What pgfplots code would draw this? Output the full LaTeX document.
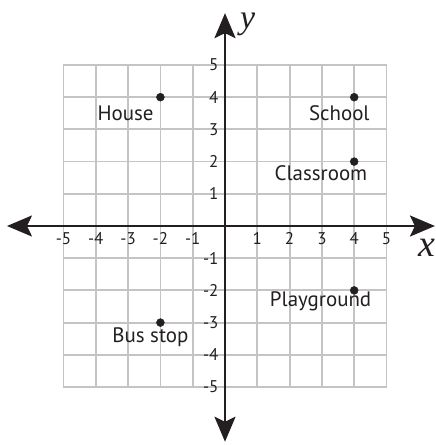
\documentclass[border=0pt]{standalone}
\usepackage{fontspec}
\setmainfont{PT Sans}
\newfontfamily\varfont{Liberation Serif}
\usepackage{pgfplots}
\pgfplotsset{compat=1.18}
\usetikzlibrary{arrows.meta}
\definecolor{gridgray}{RGB}{196,196,198}
\definecolor{ink}{RGB}{35,31,32}
\begin{document}
\begin{tikzpicture}
\begin{axis}[
  scale only axis, width=323bp, height=322bp,
  xmin=-5, xmax=5, ymin=-5, ymax=5,
  xtick={-5,...,5}, ytick={-5,...,5},
  grid=major,
  major grid style={gridgray, line width=1.8bp},
  axis line style={gridgray, line width=1.8bp},
  major tick length=0pt,
  xticklabels={,,}, yticklabels={,,},
  clip=false,
]
\coordinate (O) at (axis cs:0,0);
\draw[ink, line width=2.3bp, {Stealth[length=25bp,width=21bp,inset=5bp]}-{Stealth[length=25bp,width=21bp,inset=5bp]}] (axis cs:-6.75,0) -- (axis cs:6.5,0);
\draw[ink, line width=2.3bp, {Stealth[length=25bp,width=21bp,inset=5bp]}-{Stealth[length=25bp,width=21bp,inset=5bp]}] (axis cs:0,-6.7) -- (axis cs:0,6.61);
\addplot[only marks, mark=*, mark size=4bp, ink] coordinates {(-2,4) (4,4) (4,2) (4,-2) (-2,-3)};
% tick labels
\foreach \v in {-5,-4,-3,-2,-1,1,2,3,4,5}{
  \edef\tmp{\noexpand\node[ink, font=\noexpand\fontsize{17}{17}\noexpand\selectfont, anchor=center, inner sep=0pt] at (axis cs:\v,-0.40) {\v};
  \noexpand\node[ink, font=\noexpand\fontsize{17}{17}\noexpand\selectfont, anchor=east, inner sep=0pt] at (axis cs:-0.2,\v) {\v};}
  \tmp
}
\node[ink, font=\varfont\itshape\fontsize{38}{38}\selectfont, inner sep=0pt] at (axis cs:6.25,-0.68) {x};
\node[ink, font=\varfont\itshape\fontsize{34}{34}\selectfont, inner sep=0pt] at (axis cs:0.7,6.25) {y};
\node[ink, font=\fontsize{21}{21}\selectfont, anchor=base, inner sep=0pt] at (axis cs:-3.08,3.29) {House};
\node[ink, font=\fontsize{21}{21}\selectfont, anchor=base, inner sep=0pt] at (axis cs:3.54,3.29) {School};
\node[ink, font=\fontsize{21}{21}\selectfont, anchor=base, inner sep=0pt] at (axis cs:2.97,1.40) {Classroom};
\node[ink, font=\fontsize{21}{21}\selectfont, anchor=base, inner sep=0pt] at (axis cs:2.96,-2.5) {Playground};
\node[ink, font=\fontsize{21}{21}\selectfont, anchor=base, inner sep=0pt] at (axis cs:-2.31,-3.62) {Bus stop};
\end{axis}
\pgfresetboundingbox
\path (O) ++(-225bp,-219bp) rectangle ++(436bp,445bp);
\end{tikzpicture}
\end{document}
